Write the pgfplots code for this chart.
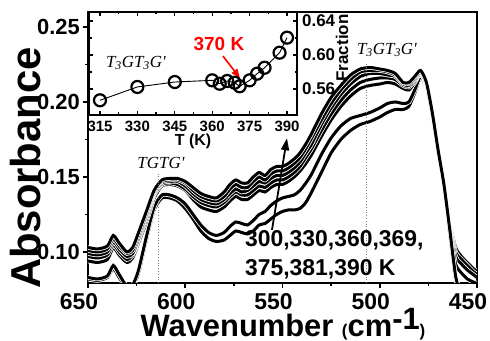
\documentclass[border=0pt]{standalone}
\usepackage{fontspec}
\setmainfont{Liberation Sans}
\newfontfamily\tnr{Liberation Serif}
\usepackage{pgfplots}
\pgfplotsset{compat=1.18}
\usepackage{pgfplotstable}
\usetikzlibrary{arrows.meta}

\pgfplotstableread{
w A B C D E F G
650 .103 .101 .099 .097 .094 .083 .082
645 .102 .100 .098 .096 .093 .082 .081
640 .104 .102 .100 .098 .095 .084 .083
637 .111 .109 .107 .105 .103 .091 .089
634 .106 .104 .102 .100 .098 .085 .083
630 .100 .099 .097 .095 .093 .077 .076
627 .103 .101 .099 .098 .096 .078 .077
624 .113 .111 .109 .108 .106 .088 .086
620 .127 .125 .124 .122 .120 .110 .108
616 .141 .140 .139 .138 .136 .130 .128
612 .148 .147 .146 .145 .144 .138 .136
608 .149 .148 .147 .146 .145 .138 .136
604 .149 .148 .147 .145 .144 .136 .134
600 .147 .146 .144 .142 .141 .132 .129
596 .143 .141 .139 .137 .135 .125 .122
592 .139 .137 .135 .133 .130 .118 .114
588 .137 .135 .133 .131 .128 .113 .109
584 .136 .134 .132 .130 .127 .111 .107
580 .140 .137 .135 .133 .130 .113 .108
577 .145 .142 .139 .137 .134 .117 .111
574 .148 .145 .142 .140 .137 .120 .114
571 .146 .143 .140 .138 .135 .119 .113
568 .146 .143 .141 .138 .135 .118 .112
565 .150 .147 .144 .141 .138 .121 .114
562 .153 .150 .147 .144 .141 .125 .118
559 .151 .148 .146 .143 .140 .127 .119
556 .155 .152 .149 .146 .143 .131 .122
553 .157 .154 .151 .148 .145 .134 .125
550 .157 .154 .151 .148 .145 .136 .127
547 .159 .156 .153 .150 .147 .137 .128
544 .162 .159 .156 .153 .150 .138 .128
541 .166 .163 .160 .157 .154 .141 .129
538 .172 .169 .166 .163 .159 .146 .133
535 .179 .176 .172 .169 .165 .152 .140
530 .192 .188 .185 .181 .177 .165 .153
525 .203 .199 .196 .192 .188 .176 .166
520 .211 .208 .205 .201 .197 .184 .175
515 .218 .215 .212 .208 .204 .189 .181
510 .222 .220 .217 .213 .209 .191 .185
505 .223 .221 .219 .215 .211 .193 .187
500 .222 .221 .219 .216 .212 .196 .190
496 .221 .220 .218 .216 .213 .199 .193
492 .219 .218 .217 .215 .212 .200 .195
488 .213 .213 .212 .211 .209 .199 .195
485 .213 .212 .211 .210 .208 .200 .197
482 .217 .216 .215 .214 .213 .208 .206
479 .221 .220 .220 .219 .219 .217 .216
476 .213 .212 .212 .211 .211 .210 .209
473 .193 .192 .192 .191 .191 .190 .189
470 .168 .168 .167 .167 .166 .166 .165
467 .145 .145 .144 .144 .143 .143 .142
464 .115 .116 .117 .118 .119 .112 .113
461 .084 .092 .097 .100 .103 .082 .084
458 .070 .086 .092 .095 .097 .070 .072
455 .060 .082 .088 .091 .093 .060 .062
452 .055 .080 .085 .087 .089 .055 .056
450 .050 .079 .083 .085 .087 .050 .050
}\spectra

\pgfplotstableread{
T f
315 0.5467
330 0.5624
345 0.5682
360 0.5702
363 0.5662
366 0.5694
369 0.5674
371 0.5632
375 0.5702
378 0.5780
381 0.5850
387 0.6027
390 0.6204
}\fraction

\pgfplotsset{
  casing/.style={white, line width=4.6bp, smooth, tension=0.4},
  curve/.style={black, line width=3bp, smooth, tension=0.4},
}

\begin{document}
\begin{tikzpicture}
\path[use as bounding box] (0,0) rectangle (490bp,341bp);
\begin{axis}[
  at={(88bp,58bp)}, anchor=south west,
  width=389bp, height=271bp, scale only axis,
  x dir=reverse, xmin=450, xmax=650, ymin=0.0793, ymax=0.26,
  xtick={450,500,...,650}, minor x tick num=1,
  ytick={0.10,0.15,0.20,0.25}, minor y tick num=1,
  xtick pos=left, ytick pos=left, tick align=outside,
  major tick length=5bp, minor tick length=3bp,
  every tick/.style={line width=1.6bp, black},
  axis line style={line width=2bp},
  scaled y ticks=false,
  /pgf/number format/assume math mode=true,
  yticklabel style={/pgf/number format/fixed, /pgf/number format/fixed zerofill, /pgf/number format/precision=2, font=\fontsize{22}{22}\selectfont\bfseries, inner sep=0pt, xshift=-3bp},
  xticklabel style={font=\fontsize{23}{23}\selectfont\bfseries, inner sep=0pt, yshift=-5bp, xshift=-9bp},
]
\addplot[casing] table[x=w,y=G]{\spectra};
\addplot[curve] table[x=w,y=G]{\spectra};
\addplot[casing] table[x=w,y=F]{\spectra};
\addplot[curve] table[x=w,y=F]{\spectra};
\addplot[casing] table[x=w,y=E]{\spectra};
\addplot[curve] table[x=w,y=E]{\spectra};
\addplot[casing] table[x=w,y=D]{\spectra};
\addplot[curve] table[x=w,y=D]{\spectra};
\addplot[casing] table[x=w,y=C]{\spectra};
\addplot[curve] table[x=w,y=C]{\spectra};
\addplot[casing] table[x=w,y=B]{\spectra};
\addplot[curve] table[x=w,y=B]{\spectra};
\addplot[casing] table[x=w,y=A]{\spectra};
\addplot[curve] table[x=w,y=A]{\spectra};
\draw[gray, dotted, line width=0.8bp] (axis cs:614,0.0793) -- (axis cs:614,0.152);
\draw[gray, dotted, line width=0.8bp] (axis cs:507,0.0793) -- (axis cs:507,0.226);
\node[font=\fontsize{17}{17}\selectfont\tnr\itshape] at (axis cs:612.5,0.1593) {TGTG'};
\node[font=\fontsize{17}{17}\selectfont\tnr\itshape] at (axis cs:496.3,0.2347) {T\textsubscript{3}GT\textsubscript{3}G'};
\draw[black, line width=1.8bp, -{Triangle[length=12bp,width=8bp]}] (axis cs:555.4,0.1147) -- (axis cs:547.7,0.1758);
\node[anchor=west, inner sep=0pt, font=\fontsize{23}{23}\selectfont\bfseries] at (axis cs:569.3,0.108) {300,330,360,369,};
\node[anchor=west, inner sep=0pt, font=\fontsize{23}{23}\selectfont\bfseries] at (axis cs:569.3,0.0887) {375,381,390 K};
\end{axis}

\begin{axis}[
  at={(89bp,226bp)}, anchor=south west,
  width=208bp, height=103bp, scale only axis,
  xmin=310.6, xmax=394, ymin=0.5294, ymax=0.6506,
  xtick={315,330,...,390}, minor x tick num=1,
  ytick={0.56,0.60,0.64}, minor y tick num=1,
  yticklabel pos=right, tick align=inside,
  major tick length=4bp, minor tick length=2.5bp,
  every tick/.style={line width=1.3bp, black},
  axis line style={line width=2bp},
  axis background/.style={fill=white},
  scaled y ticks=false,
  /pgf/number format/assume math mode=true,
  yticklabel style={/pgf/number format/fixed, /pgf/number format/fixed zerofill, /pgf/number format/precision=2, font=\fontsize{17}{17}\selectfont\bfseries, inner sep=0pt, xshift=5bp},
  xticklabel style={font=\fontsize{15}{15}\selectfont\bfseries, inner sep=0pt, yshift=-6bp},
  xlabel={T (K)},
  xlabel style={font=\fontsize{16}{16}\selectfont\bfseries, at={(axis description cs:0.5,0)}, anchor=center, yshift=-26bp},
]
\addplot[black, line width=0.9bp, mark=o, mark size=6bp, mark options={fill=white, line width=2.2bp, solid}] table[x=T,y=f]{\fraction};
\node[text=red, font=\fontsize{19}{19}\selectfont\bfseries] at (axis cs:362.7,0.613) {370 K};
\draw[red, line width=1.6bp, -{Triangle[length=9bp,width=7bp]}] (axis cs:364.3,0.5988) -- (axis cs:371.1,0.573);
\node[font=\fontsize{17}{17}\selectfont\tnr\itshape] at (axis cs:329.4,0.5906) {T\textsubscript{3}GT\textsubscript{3}G'};
\end{axis}

\node[rotate=90, anchor=center, inner sep=0pt, font=\fontsize{17}{17}\selectfont\bfseries] at (342bp,293bp) {Fraction};
\node[rotate=90, anchor=base, inner sep=0pt, font=\fontsize{42}{42}\selectfont\bfseries] at (40bp,173bp) {Absorbance};
\node[anchor=base, inner sep=0pt, font=\fontsize{31}{31}\selectfont\bfseries] at (283bp,5bp) {Wavenumber {\fontsize{17}{17}\selectfont(}cm\smash{\raisebox{7bp}{-1}}{\fontsize{17}{17}\selectfont)}};
\end{tikzpicture}
\end{document}
